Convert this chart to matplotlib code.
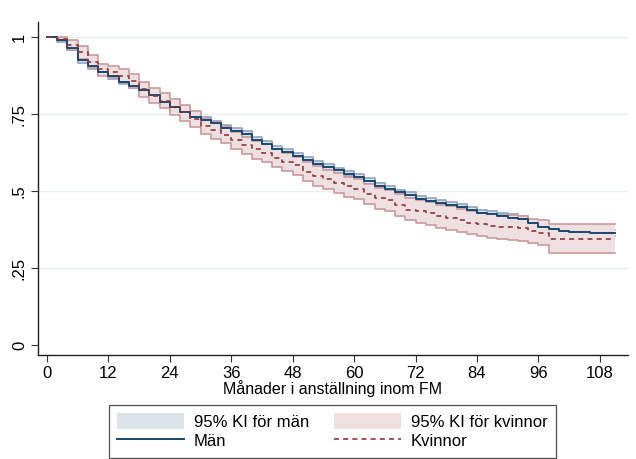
import matplotlib.pyplot as plt
from matplotlib.patches import Patch
from matplotlib.lines import Line2D
import numpy as np

plt.rcParams["font.family"] = ["Liberation Sans", "DejaVu Sans"]

# Kaplan-Meier estimates read every second month (step function)
months = list(range(0, 112, 2))
men = [1.0, .99, .965, .925, .905, .886, .872, .855, .841, .828, .812, .79, .772, .755,
       .741, .73, .72, .705, .695, .685, .667, .653, .638, .627, .614, .6, .588, .579,
       .567, .557, .545, .533, .517, .506, .496, .487, .475, .467, .461, .456, .448, .438,
       .43, .424, .418, .414, .408, .397, .385, .376, .372, .368, .367, .365, .365, .365]
men_hi = [1.0, .996, .973, .933, .913, .894, .88, .863, .849, .836, .82, .799, .781, .764,
          .75, .739, .729, .714, .704, .694, .676, .662, .647, .636, .623, .609, .597, .588,
          .576, .566, .554, .542, .526, .515, .505, .496, .484, .476, .47, .465, .457, .447,
          .439, .434, .428, .424, .418, .407, .395, .386, .382, .378, .377, .375, .375, .375]
men_lo = [1.0, .984, .957, .917, .897, .878, .864, .847, .833, .82, .804, .781, .763, .746,
          .732, .721, .711, .696, .686, .676, .658, .644, .629, .618, .605, .591, .579, .57,
          .558, .548, .536, .524, .508, .497, .487, .478, .466, .458, .452, .447, .439, .429,
          .421, .414, .408, .404, .398, .387, .375, .366, .362, .358, .357, .355, .355, .355]
women = [1.0, .995, .975, .952, .918, .895, .886, .875, .858, .83, .81, .792, .772, .755,
         .735, .712, .697, .683, .665, .649, .635, .625, .608, .595, .583, .563, .55, .538,
         .527, .515, .507, .49, .477, .47, .455, .44, .434, .428, .42, .413, .406, .398,
         .392, .388, .385, .383, .379, .371, .363, .346, .346, .346, .346, .346, .346, .346]
women_hi = [1.0, 1.0, .99, .972, .942, .912, .905, .896, .88, .853, .835, .818, .798, .78,
            .76, .738, .723, .71, .692, .677, .664, .652, .636, .624, .612, .593, .581, .569,
            .558, .547, .54, .523, .511, .504, .49, .476, .47, .464, .456, .45, .443, .436,
            .43, .426, .423, .421, .418, .41, .405, .392, .392, .392, .392, .392, .392, .392]
women_lo = [1.0, .99, .958, .93, .898, .875, .866, .853, .835, .806, .787, .768, .748, .728,
            .707, .685, .668, .655, .637, .62, .605, .594, .578, .565, .552, .532, .518, .506,
            .494, .482, .474, .457, .443, .436, .42, .405, .398, .39, .381, .375, .368, .36,
            .354, .349, .345, .342, .339, .33, .325, .298, .298, .298, .298, .298, .298, .298]
last_month = 111

x_ticks = [0, 12, 24, 36, 48, 60, 72, 84, 96, 108]
y_ticks = [0, 0.25, 0.5, 0.75, 1]
y_ticklabels = ["0", ".25", ".5", ".75", "1"]

MEN_LINE = "#1a476f"
MEN_FILL = "#dce3ea"
MEN_EDGE = "#8ea4bc"
WOMEN_LINE = "#90353b"
WOMEN_FILL = "#eee0e1"
WOMEN_EDGE = "#c99a9e"


def _ext(vals):
    return np.append(vals, vals[-1])


fig = plt.figure(figsize=(6.36, 4.59), dpi=100)
ax = fig.add_axes([38 / 636, 1 - 355 / 459, 590 / 636, 333.4 / 459])

t = np.append(months, last_month)

ax.fill_between(t, _ext(men_lo), _ext(men_hi), step="post", color=MEN_FILL, linewidth=0, zorder=2)
ax.step(t, _ext(men_hi), where="post", color=MEN_EDGE, linewidth=1.2, zorder=2.1)
ax.step(t, _ext(men_lo), where="post", color=MEN_EDGE, linewidth=1.2, zorder=2.1)

ax.fill_between(t, _ext(women_lo), _ext(women_hi), step="post", color=WOMEN_FILL, linewidth=0, zorder=3)
ax.step(t, _ext(women_hi), where="post", color=WOMEN_EDGE, linewidth=1.2, zorder=3.1)
ax.step(t, _ext(women_lo), where="post", color=WOMEN_EDGE, linewidth=1.2, zorder=3.1)

ax.step(t, _ext(men), where="post", color=MEN_LINE, linewidth=1.4, zorder=5)
ax.step(t, _ext(women), where="post", color=WOMEN_LINE, linewidth=1.2,
        linestyle=(0, (3, 2.5)), zorder=5)

for y in y_ticks[1:]:
    ax.axhline(y, color="#e6eef0", linewidth=1.0, zorder=1)

ax.set_xlim(-1.76, 113.5)
ax.set_ylim(-0.032, 1.05)
ax.set_xticks(x_ticks)
ax.set_yticks(y_ticks)
ax.set_yticklabels(y_ticklabels, rotation=90, va="center")
ax.tick_params(axis="both", direction="out", length=5, width=0.8, color="#333333",
               labelsize=12, pad=3)
for side in ("top", "right"):
    ax.spines[side].set_visible(False)
for side in ("left", "bottom"):
    ax.spines[side].set_color("#222222")
    ax.spines[side].set_linewidth(1.0)

ax.set_xlabel("Månader i anställning inom FM", fontsize=11.5, labelpad=-1)

handles = [
    Patch(facecolor=MEN_FILL, edgecolor="none"),
    Line2D([], [], color=MEN_LINE, linewidth=1.4),
    Patch(facecolor=WOMEN_FILL, edgecolor="none"),
    Line2D([], [], color=WOMEN_LINE, linewidth=1.2, linestyle=(0, (3, 2.5))),
]
labels = ["95% KI för män", "Män", "95% KI för kvinnor", "Kvinnor"]
leg = fig.legend(handles, labels, ncol=2, loc="upper center",
                 bbox_to_anchor=(332.5 / 636, 1 - 405 / 459), fontsize=12,
                 frameon=True, fancybox=False, handlelength=4.0, handleheight=1.1,
                 handletextpad=0.6, columnspacing=1.5, labelspacing=0.15,
                 borderpad=0.5, borderaxespad=0)
leg.get_frame().set_edgecolor("#222222")
leg.get_frame().set_linewidth(0.9)

fig.savefig("out.png", dpi=100)
